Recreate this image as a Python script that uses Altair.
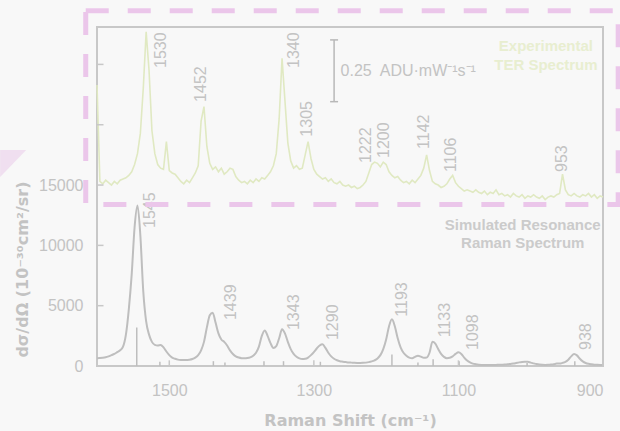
import altair as alt
import pandas as pd

# Raman shift sampling grid (cm^-1), one point every 4 cm^-1
shift_cm = list(range(1600, 899, -4))

# Experimental TER spectrum, offset onto the upper part of the shared axis
ter_signal = [
    # 1600 .. 1564
    23300, 15300, 15100, 15400, 15200, 15000, 15300, 15100, 15400, 15500,
    # 1560 .. 1524
    15600, 15800, 16100, 16700, 17600, 19300, 23000, 27700, 24500, 19500,
    # 1520 .. 1484
    17600, 16700, 16400, 16300, 18600, 16200, 16000, 15900, 15600, 15300,
    # 1480 .. 1444
    15100, 15400, 15200, 15600, 16000, 16600, 20300, 21500, 18200, 16800,
    # 1440 .. 1404
    16300, 16500, 16100, 16400, 15900, 16100, 16400, 16300, 15700, 15400,
    # 1400 .. 1364
    15200, 15300, 15100, 15400, 15200, 15500, 15300, 15600, 15500, 15800,
    # 1360 .. 1324
    16100, 16600, 17600, 20500, 25500, 22000, 18500, 17000, 16400, 16600,
    # 1320 .. 1284
    16300, 16400, 17500, 18600, 17200, 16300, 15900, 15700, 15500, 15600,
    # 1280 .. 1244
    15300, 15500, 15200, 15100, 15300, 15000, 14900, 15000, 14800, 14900,
    # 1240 .. 1204
    14700, 14800, 15000, 15300, 16000, 16700, 16900, 16800, 16500, 16900,
    # 1200 .. 1164
    16700, 16100, 15800, 15600, 15700, 15400, 15200, 15300, 15100, 15400,
    # 1160 .. 1124
    15200, 15500, 15800, 16400, 17500, 16200, 15300, 15100, 15000, 14800,
    # 1120 .. 1084
    14900, 15100, 15500, 15800, 15200, 14900, 14700, 14500, 14600, 14500,
    # 1080 .. 1044
    14400, 14600, 14400, 14300, 14500, 14200, 14400, 14300, 14600, 14200,
    # 1040 .. 1004
    14300, 14100, 14200, 14000, 14300, 14100, 14000, 14200, 13900, 14100,
    # 1000 .. 964
    14000, 14200, 14000, 13900, 14100, 13800, 14000, 14100, 14000, 14200,
    # 960 .. 924
    14300, 15900, 14600, 14200, 14100, 14300, 14100, 14000, 14200, 14100,
    # 920 .. 900
    14300, 14000, 14200, 13900, 14100, 14000,
]

# Simulated resonance Raman cross section (10^-30 cm^2/sr)
rr_sigma = [
    # 1600 .. 1564
    650, 660, 680, 720, 800, 900, 1000, 1150, 1300, 1600,
    # 1560 .. 1524
    2600, 4700, 7600, 11500, 13300, 10800, 6200, 3700, 2600, 2000,
    # 1520 .. 1484
    1750, 1700, 1750, 1550, 1200, 900, 700, 600, 530, 500,
    # 1480 .. 1444
    490, 500, 520, 580, 700, 900, 1300, 2000, 3200, 4200,
    # 1440 .. 1404
    4420, 3600, 2700, 2200, 2000, 1700, 1300, 1000, 800, 700,
    # 1400 .. 1364
    650, 640, 660, 720, 850, 1100, 1600, 2500, 2950, 2500,
    # 1360 .. 1324
    1900, 1500, 1650, 2300, 3040, 2700, 2000, 1400, 1000, 760,
    # 1320 .. 1284
    630, 580, 600, 700, 900, 1150, 1450, 1700, 1800, 1500,
    # 1280 .. 1244
    1100, 800, 600, 480, 400, 360, 330, 300, 280, 260,
    # 1240 .. 1204
    250, 250, 260, 280, 320, 380, 470, 620, 900, 1400,
    # 1200 .. 1164
    2200, 3300, 3870, 3300, 2300, 1550, 1100, 850, 700, 650,
    # 1160 .. 1124
    760, 850, 780, 680, 700, 1100, 2000, 1850, 1400, 1000,
    # 1120 .. 1084
    760, 650, 680, 800, 1000, 1130, 1000, 700, 450, 300,
    # 1080 .. 1044
    200, 150, 110, 90, 80, 80, 80, 80, 90, 100,
    # 1040 .. 1004
    110, 120, 140, 170, 200, 250, 300, 340, 360, 350,
    # 1000 .. 964
    280, 220, 160, 120, 100, 90, 100, 120, 150, 200,
    # 960 .. 924
    200, 260, 350, 520, 800, 1000, 880, 600, 380, 250,
    # 920 .. 900
    180, 140, 110, 100, 90, 80,
]

# Stick spectrum of the computed modes
stick_shift = [1545, 1513, 1439, 1423, 1369, 1342, 1291, 1192, 1156, 1135, 1099, 1005, 939]
stick_sigma = [3200, 350, 400, 300, 400, 400, 350, 950, 300, 550, 400, 250, 400]

# Peak annotations
ter_peak_text = ["1530", "1452", "1340", "1305", "1222", "1200", "1142", "1106", "953"]
ter_peak_x = [1511, 1456, 1327, 1310, 1228, 1203, 1148, 1110, 957]
ter_peak_y = [24700, 21890, 24700, 19010, 16830, 17240, 17990, 16080, 16080]

rr_peak_text = ["1545", "1439", "1343", "1290", "1193", "1133", "1098", "938"]
rr_peak_x = [1526, 1415, 1328, 1273, 1178, 1118, 1080, 924]
rr_peak_y = [11440, 3810, 2980, 2150, 4090, 2380, 1330, 1330]

x_tick_values = [1500, 1300, 1100, 900]
y_tick_values = [0, 5000, 10000, 15000, 20000, 25000]

# Intensity scale bar of the experimental trace
bar_shift = [1272]
bar_low = [21910]
bar_high = [27030]
bar_cap_left = [1277.5]
bar_cap_right = [1266.5]
bar_label = ["0.25\u2002ADU\u00b7mW\u207b\u00b9s\u207b\u00b9"]
bar_label_x = [1263]
bar_label_y = [24460]

# Trace captions
caption_text = ["Experimental", "TER Spectrum", "Simulated Resonance", "Raman Spectrum"]
caption_x = [979, 979, 1011, 1011]
caption_y = [26530, 24950, 11690, 10170]
caption_group = ["ter", "ter", "rr", "rr"]

# Highlight frame around the experimental trace
box_x = [1615.6]
box_x2 = [879]
box_y = [13390]
box_y2 = [29450]

# Corner wedge
wedge_x = [1734, 1698]
wedge_top = [17906, 17906]
wedge_bottom = [15668, 17906]

GRAY_LINE = "#bebebe"
GREEN_LINE = "#e0e9c2"
GREEN_TEXT = "#e8eed0"
TEXT = "#c3c3c3"
FRAME = "#c8c8c8"
PINK = "#ebc6ea"

x_scale = alt.Scale(domain=[900, 1600], reverse=True, nice=False, zero=False)
y_scale = alt.Scale(domain=[0, 28100], nice=False, zero=False)

x_axis = alt.Axis(
    values=x_tick_values,
    format="d",
    ticks=False,
    tickSize=0,
    domain=False,
    grid=False,
    labelFont="Liberation Sans",
    labelFontSize=16,
    labelColor=TEXT,
    labelPadding=16,
    title="Raman Shift (cm\u207b\u00b9)",
    titleFont="DejaVu Sans",
    titleFontSize=16,
    titleFontWeight="bold",
    titleColor=TEXT,
    titleBaseline="middle",
    titleY=54,
)

y_axis = alt.Axis(
    values=y_tick_values,
    labelExpr="datum.value <= 15000 ? datum.label : ''",
    format="d",
    ticks=False,
    tickSize=0,
    domain=False,
    grid=False,
    labelFont="Liberation Sans",
    labelFontSize=16,
    labelColor=TEXT,
    labelPadding=14,
    title="d\u03c3/d\u03a9 (10\u207b\u00b3\u2070cm\u00b2/sr)",
    titleFont="DejaVu Sans",
    titleFontSize=16,
    titleFontWeight="bold",
    titleColor=TEXT,
    titleAngle=270,
    titleAlign="center",
    titleBaseline="middle",
    titleX=-75,
    titleY=242,
)


# every layer carries the same scale and axis definition so they merge into one
def X(field):
    return alt.X(f"{field}:Q", scale=x_scale, axis=x_axis)


def Y(field):
    return alt.Y(f"{field}:Q", scale=y_scale, axis=y_axis)


spec_df = pd.DataFrame({"shift": shift_cm, "ter": ter_signal, "rr": rr_sigma})

wedge = alt.Chart(pd.DataFrame({"sx": wedge_x, "top": wedge_top, "bottom": wedge_bottom})).mark_area(
    color="#eedbee", opacity=0.9
).encode(x=X("sx"), y=Y("top"), y2=alt.Y2("bottom"))

ter_line = alt.Chart(spec_df).mark_line(color=GREEN_LINE, strokeWidth=1.6).encode(
    x=X("shift"), y=Y("ter")
)

rr_line = alt.Chart(spec_df).mark_line(color=GRAY_LINE, strokeWidth=2, interpolate="monotone").encode(
    x=X("shift"), y=Y("rr")
)

sticks = alt.Chart(pd.DataFrame({"sx": stick_shift, "top": stick_sigma, "base": [0] * len(stick_shift)})).mark_rule(
    color=GRAY_LINE, strokeWidth=1.5
).encode(x=X("sx"), y=Y("base"), y2=alt.Y2("top"))

# inward ticks along the bottom and left edges
x_ticks = alt.Chart(pd.DataFrame({
    "sx": x_tick_values, "base": [0] * len(x_tick_values), "tip": [470] * len(x_tick_values),
})).mark_rule(color=FRAME, strokeWidth=1.5).encode(x=X("sx"), y=Y("base"), y2=alt.Y2("tip"))

y_ticks = alt.Chart(pd.DataFrame({
    "sy": y_tick_values, "edge": [1600] * len(y_tick_values), "tip": [1591] * len(y_tick_values),
})).mark_rule(color=FRAME, strokeWidth=1.5).encode(y=Y("sy"), x=X("edge"), x2=alt.X2("tip"))

bar_df = pd.DataFrame({"sx": bar_shift, "lo": bar_low, "hi": bar_high, "cl": bar_cap_left, "cr": bar_cap_right})
bar_stem = alt.Chart(bar_df).mark_rule(color="#b8b8b8", strokeWidth=1.5).encode(
    x=X("sx"), y=Y("lo"), y2=alt.Y2("hi")
)
bar_cap_top = alt.Chart(bar_df).mark_rule(color="#b8b8b8", strokeWidth=1.5).encode(
    x=X("cl"), x2=alt.X2("cr"), y=Y("hi")
)
bar_cap_bottom = alt.Chart(bar_df).mark_rule(color="#b8b8b8", strokeWidth=1.5).encode(
    x=X("cl"), x2=alt.X2("cr"), y=Y("lo")
)
bar_text = alt.Chart(pd.DataFrame({"sx": bar_label_x, "sy": bar_label_y, "t": bar_label})).mark_text(
    font="Liberation Sans", fontSize=16, color=TEXT, align="left", baseline="middle"
).encode(x=X("sx"), y=Y("sy"), text="t:N")

peak_df = pd.DataFrame({
    "sx": ter_peak_x + rr_peak_x,
    "sy": ter_peak_y + rr_peak_y,
    "t": ter_peak_text + rr_peak_text,
})
peak_labels = alt.Chart(peak_df).mark_text(
    font="Liberation Sans", fontSize=16, color=TEXT, angle=270, align="left", baseline="middle"
).encode(x=X("sx"), y=Y("sy"), text="t:N")

cap_df = pd.DataFrame({"sx": caption_x, "sy": caption_y, "t": caption_text, "g": caption_group})
captions = alt.Chart(cap_df).mark_text(
    font="Liberation Sans", fontSize=15, fontWeight="bold", align="center", baseline="middle"
).encode(
    x=X("sx"), y=Y("sy"), text="t:N",
    color=alt.Color("g:N", scale=alt.Scale(domain=["ter", "rr"], range=[GREEN_TEXT, "#cbcbcb"]), legend=None),
)

box = alt.Chart(pd.DataFrame({"x1": box_x, "x2": box_x2, "y1": box_y, "y2": box_y2})).mark_rect(
    filled=False, color=PINK, strokeWidth=5, strokeDash=[23, 19]
).encode(x=X("x1"), x2=alt.X2("x2"), y=Y("y1"), y2=alt.Y2("y2"))

chart = alt.layer(
    wedge, ter_line, rr_line, sticks, x_ticks, y_ticks,
    bar_stem, bar_cap_top, bar_cap_bottom, bar_text,
    peak_labels, captions, box,
).properties(
    width=506,
    height=339,
    autosize=alt.AutoSizeParams(type="none"),
    padding={"left": 97, "top": 27, "right": 17, "bottom": 65},
).configure(
    background="#f8f8f8",
).configure_view(
    stroke=FRAME,
    strokeWidth=2,
)

chart.save("out.html", embed_options={"renderer": "svg", "actions": False})
